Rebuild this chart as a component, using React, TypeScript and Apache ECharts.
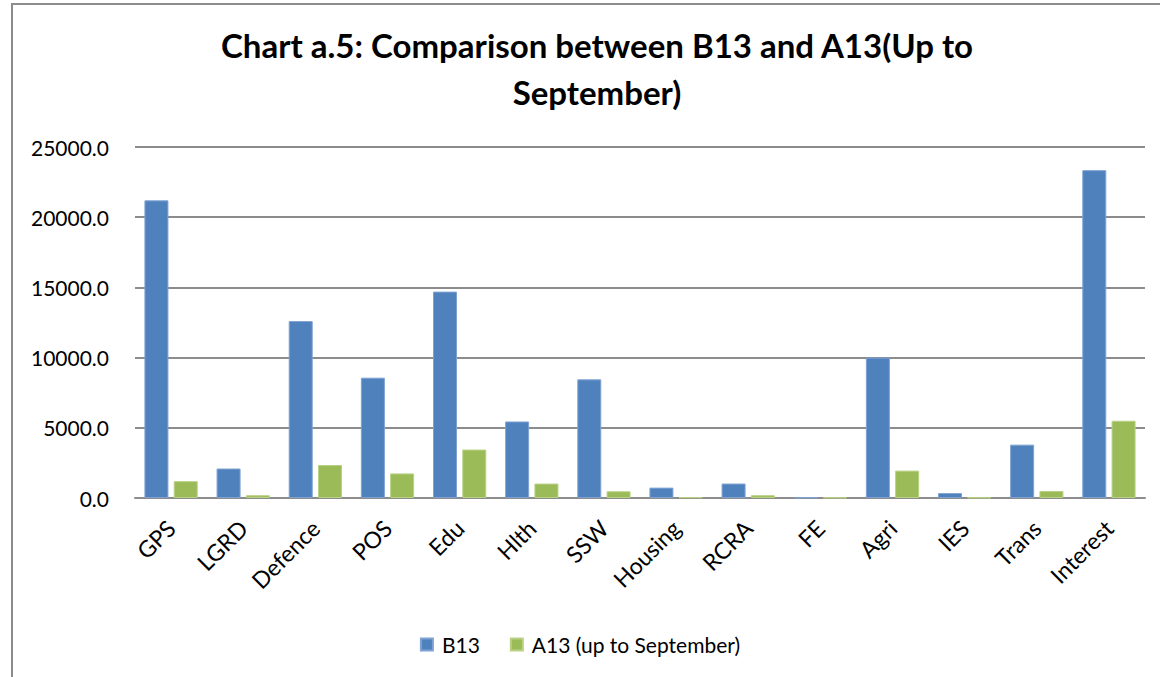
import React, { useEffect, useRef } from "react";
import * as echarts from "echarts";

const categories = ["GPS", "LGRD", "Defence", "POS", "Edu", "Hlth", "SSW", "Housing", "RCRA", "FE", "Agri", "IES", "Trans", "Interest"];
const b13Values = [21200, 2100, 12600, 8570, 14700, 5450, 8450, 740, 1030, 40, 10000, 350, 3800, 23350];
const a13Values = [1200, 200, 2350, 1750, 3450, 1030, 480, 50, 200, 30, 1950, 30, 500, 5500];
const seriesNames = ["B13", "A13 (up to September)"];
const titleText = "Chart a.5: Comparison between B13 and A13(Up to\nSeptember)";

const FONT = "Lato, 'Open Sans', sans-serif";

export default function App() {
  const ref = useRef<HTMLDivElement>(null);
  useEffect(() => {
    if (!ref.current) return;
    const chart = echarts.init(ref.current, null, { renderer: "svg" });
    chart.setOption({
      animation: false,
      backgroundColor: "#ffffff",
      textStyle: { fontFamily: FONT },
      title: {
        text: titleText,
        left: 592,
        textAlign: "center",
        top: 16,
        textStyle: { fontFamily: FONT, fontSize: 33, fontWeight: "bold", color: "#000", lineHeight: 47 },
      },
      graphic: [
        {
          type: "rect",
          shape: { x: 12, y: 4, width: 1200, height: 720 },
          style: { fill: "none", stroke: "#8c8c8c", lineWidth: 2 },
          silent: true,
        },
      ],
      legend: {
        top: 629,
        left: "center",
        itemWidth: 12,
        itemHeight: 12,
        itemGap: 30,
        icon: "rect",
        textStyle: { fontFamily: FONT, fontSize: 21, color: "#000", padding: [0, 0, 0, 4] },
        data: seriesNames,
      },
      grid: { left: 135, right: 15, top: 147, bottom: 179, containLabel: false },
      xAxis: {
        type: "category",
        data: categories,
        axisLine: { lineStyle: { color: "#8c8c8c", width: 2 } },
        axisTick: { show: false },
        axisLabel: { rotate: 45, margin: 26, fontFamily: FONT, fontSize: 23, color: "#000", interval: 0 },
      },
      yAxis: {
        type: "value",
        min: 0,
        max: 25000,
        interval: 5000,
        axisLine: { show: false },
        axisTick: { show: false },
        splitLine: { lineStyle: { color: "#8c8c8c", width: 2 } },
        axisLabel: {
          margin: 26,
          fontFamily: FONT,
          fontSize: 21,
          color: "#000",
          formatter: (v: number) => v.toFixed(1),
        },
      },
      series: [
        {
          name: seriesNames[0],
          type: "bar",
          data: b13Values,
          barWidth: 24,
          barGap: "22%",
          itemStyle: { color: "#4F81BD", borderColor: "#7FA2D3", borderWidth: 1 },
        },
        {
          name: seriesNames[1],
          type: "bar",
          data: a13Values,
          barWidth: 24,
          itemStyle: { color: "#9BBB59", borderColor: "#B9D183", borderWidth: 1 },
        },
      ],
    });
    return () => chart.dispose();
  }, []);
  return <div ref={ref} style={{ position: "absolute", left: 0, top: 0, width: 1160, height: 677 }} />;
}
